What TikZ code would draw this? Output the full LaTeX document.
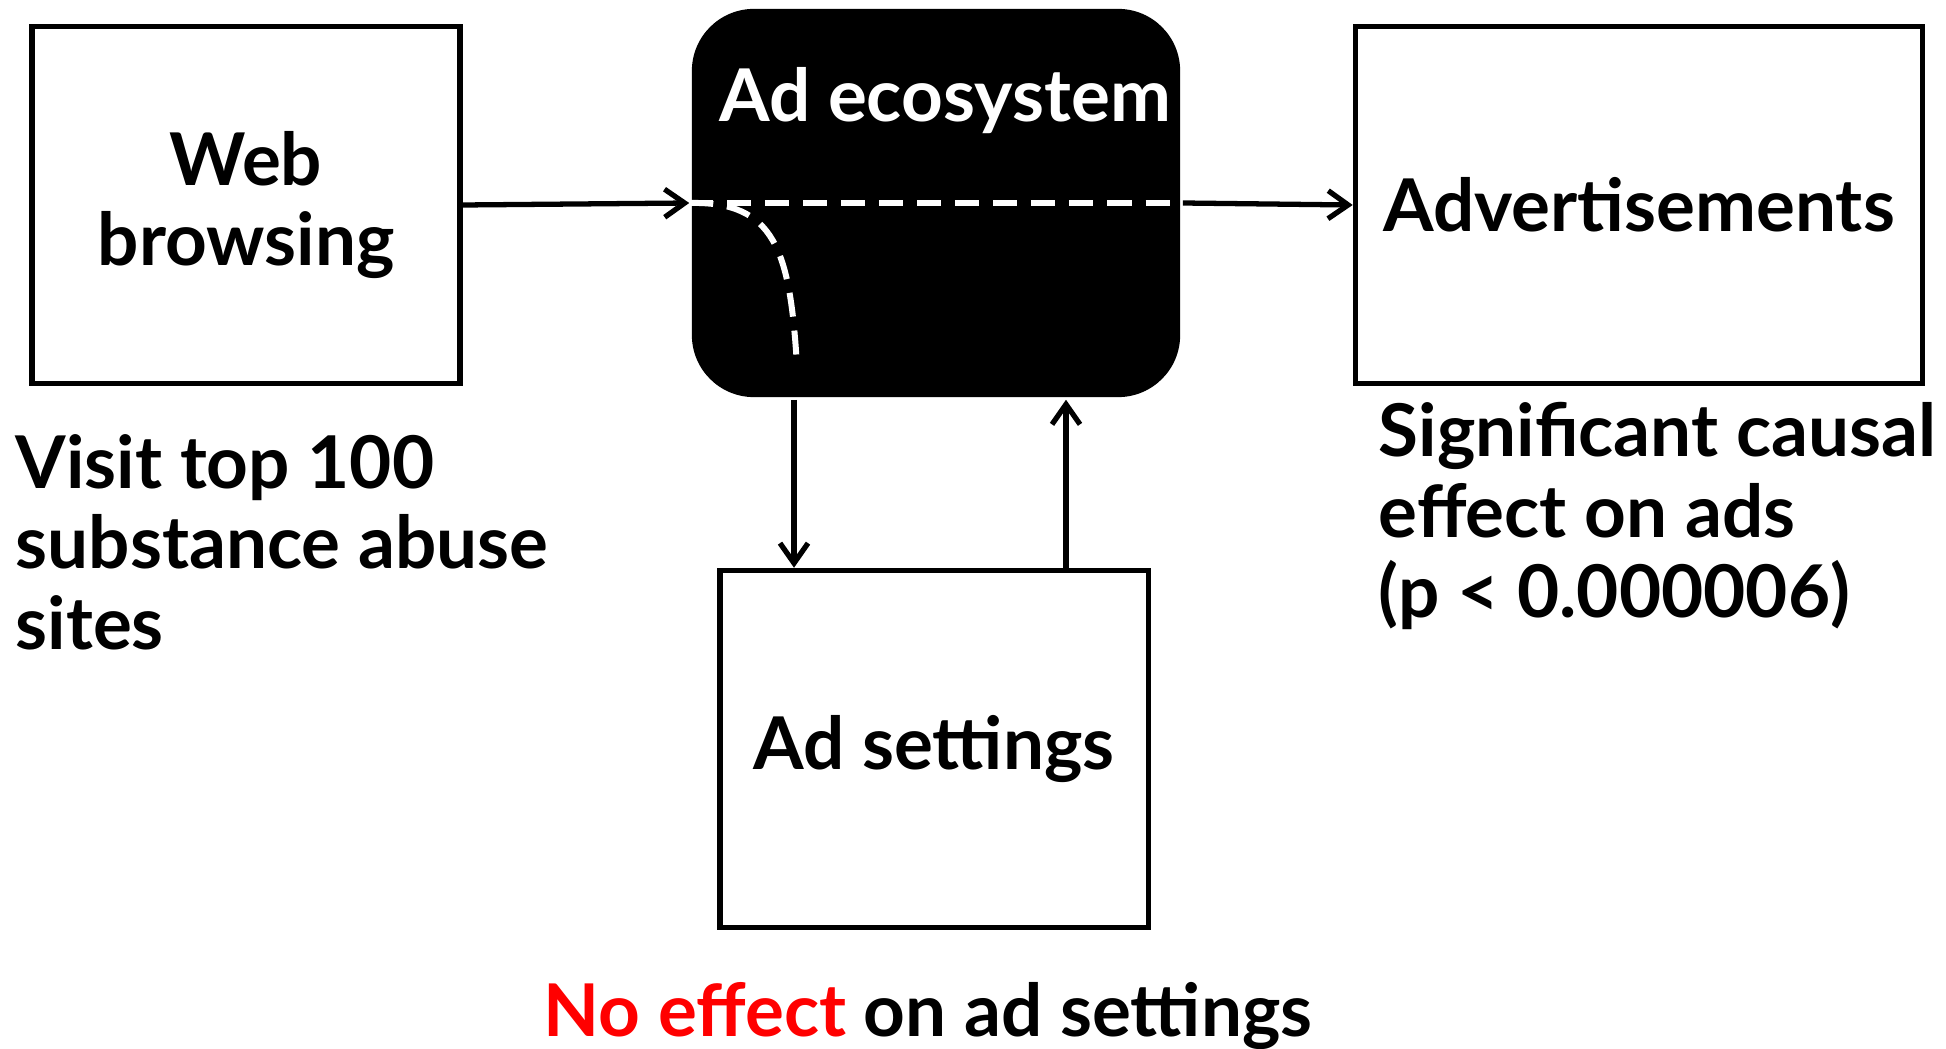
\documentclass[tikz,border=0pt]{standalone}
\usepackage{fontspec}
\setmainfont{Lato}
\usetikzlibrary{arrows.meta}

\tikzset{
  box/.style={draw, line width=1.5pt, minimum width=4.28cm, minimum height=3.57cm,
    align=center, font=\fontsize{20.7}{22.8}\selectfont\bfseries},
  note/.style={align=left, inner sep=0pt, font=\fontsize{20.7}{22.8}\selectfont\bfseries},
  conn/.style={line width=1.5pt, -{Straight Barb[length=2mm,width=2.8mm,line width=1.5pt]}},
  whitedash/.style={white, line width=1.7pt, dash pattern=on 0.24cm off 0.14cm}
}

\begin{document}
\begin{tikzpicture}[x=0.01cm, y=-0.01cm]
\useasboundingbox (0,0) rectangle (1946,1049);

\node[box] (web) at (246,205) {Web\\browsing};
\node[box, fill=black, draw=none, minimum width=4.88cm, minimum height=3.88cm,
  rounded corners=0.62cm] (eco) at (936,203) {};
\node[note, white] (ecolabel) at (945,101) {Ad ecosystem};
\node[box, minimum width=5.67cm] (adv) at (1639,205) {Advertisements};
\node[box] (set) at (934,749) {Ad settings};

\node[note, anchor=north west] (visit) at (15,434) {Visit top 100\\substance abuse\\sites};
\node[note, anchor=north west] (signif) at (1378,402) {Significant causal\\effect on ads\\(p < 0.000006)};
\node[note] (noeff) at (928,1016) {\textcolor{red}{No effect} on ad settings};

% flow through the black box
\draw[whitedash] (eco.west) -- (eco.east);
\draw[whitedash] (eco.west) .. controls (775,201) and (790,250) .. (797,366);

\coordinate (down) at (794,0);
\coordinate (up) at (1066,0);
\draw[conn] (web.east) -- (eco.west);
\draw[conn] (eco.east) -- (adv.west);
\draw[conn] (eco.south -| down) -- (set.north -| down);
\draw[conn] (set.north -| up) -- (eco.south -| up);

\end{tikzpicture}
\end{document}
